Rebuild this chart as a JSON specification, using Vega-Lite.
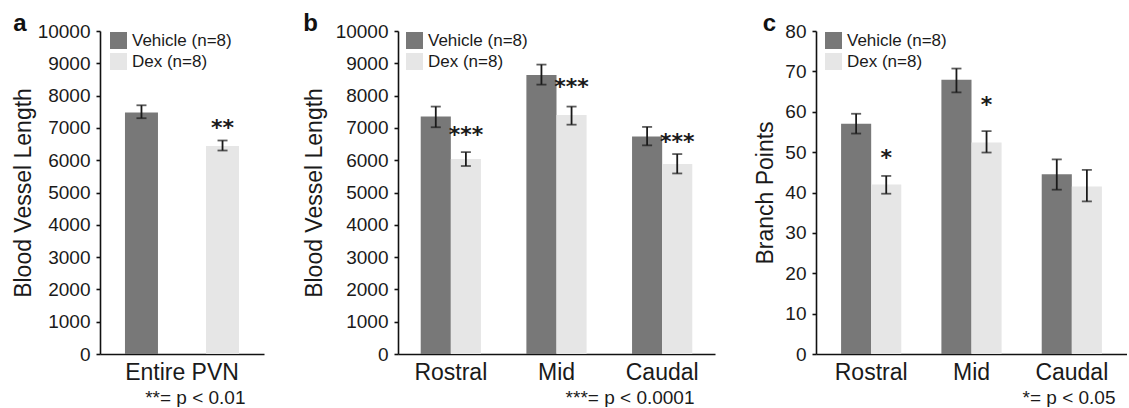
{
  "$schema": "https://vega.github.io/schema/vega-lite/v6.json",
  "padding": {"left": 12, "top": 12, "right": 0, "bottom": 0},
  "spacing": 39,
  "config": {
    "font": "Liberation Sans",
    "view": {"stroke": null},
    "axis": {"grid": false, "domainColor": "#111", "domainWidth": 1.6, "tickColor": "#111", "tickWidth": 1.6, "labelColor": "#1a1a1a", "titleColor": "#1a1a1a", "titleFontWeight": "normal", "labelFont": "Liberation Sans", "titleFont": "Liberation Sans"},
    "axisY": {"format": "d", "labelOverlap": false, "labelFlush": false, "titleFontSize": 23, "labelFontSize": 19, "tickSize": 4, "labelPadding": 6},
    "title": {"font": "Liberation Sans", "fontSize": 24, "fontWeight": "bold", "anchor": "start", "frame": "bounds", "color": "#111", "offset": -14},
    "legend": {"labelFontSize": 17, "labelFont": "Liberation Sans"}
  },
  "datasets": {
    "a": [
      {"region": "Entire PVN", "group": "Vehicle (n=8)", "mean": 7480, "lo": 7300, "hi": 7700, "sig": "", "starY": null},
      {"region": "Entire PVN", "group": "Dex (n=8)", "mean": 6440, "lo": 6300, "hi": 6610, "sig": "**", "starY": 7090}
    ],
    "b": [
      {"region": "Rostral", "group": "Vehicle (n=8)", "mean": 7350, "lo": 7020, "hi": 7660, "sig": "", "starY": null},
      {"region": "Rostral", "group": "Dex (n=8)", "mean": 6040, "lo": 5820, "hi": 6250, "sig": "***", "starY": 6870},
      {"region": "Mid", "group": "Vehicle (n=8)", "mean": 8640, "lo": 8340, "hi": 8960, "sig": "", "starY": null},
      {"region": "Mid", "group": "Dex (n=8)", "mean": 7400, "lo": 7100, "hi": 7660, "sig": "***", "starY": 8360},
      {"region": "Caudal", "group": "Vehicle (n=8)", "mean": 6730, "lo": 6460, "hi": 7030, "sig": "", "starY": null},
      {"region": "Caudal", "group": "Dex (n=8)", "mean": 5880, "lo": 5590, "hi": 6190, "sig": "***", "starY": 6660}
    ],
    "c": [
      {"region": "Rostral", "group": "Vehicle (n=8)", "mean": 57.0, "lo": 54.6, "hi": 59.5, "sig": "", "starY": null},
      {"region": "Rostral", "group": "Dex (n=8)", "mean": 42.0, "lo": 39.7, "hi": 44.1, "sig": "*", "starY": 49.4},
      {"region": "Mid", "group": "Vehicle (n=8)", "mean": 67.9, "lo": 64.8, "hi": 70.7, "sig": "", "starY": null},
      {"region": "Mid", "group": "Dex (n=8)", "mean": 52.4, "lo": 49.9, "hi": 55.2, "sig": "*", "starY": 62.3},
      {"region": "Caudal", "group": "Vehicle (n=8)", "mean": 44.5, "lo": 40.7, "hi": 48.2, "sig": "", "starY": null},
      {"region": "Caudal", "group": "Dex (n=8)", "mean": 41.5, "lo": 37.8, "hi": 45.6, "sig": "", "starY": null}
    ]
  },
  "hconcat": [
    {
      "title": {"text": "a", "dx": 1},
      "width": 164,
      "height": 323,
      "data": {"name": "a"},
      "encoding": {
        "x": {"field": "region", "type": "nominal", "scale": {"paddingInner": 0, "paddingOuter": 0.219},
          "axis": {"labelAngle": 0, "labelFontSize": 23, "ticks": false, "labelPadding": 7, "title": "**= p < 0.01", "titleFontSize": 19, "titleAlign": "right", "titleX": 145, "titlePadding": 4}},
        "xOffset": {"field": "group", "type": "nominal", "sort": ["Vehicle (n=8)", "Dex (n=8)"], "scale": {"paddingInner": 0.593, "paddingOuter": 0}}
      },
      "layer": [
        {"mark": {"type": "bar"},
          "encoding": {
            "y": {"field": "mean", "type": "quantitative", "title": "Blood Vessel Length", "scale": {"domain": [0, 10000], "nice": false},
              "axis": {"values": [0,1000,2000,3000,4000,5000,6000,7000,8000,9000,10000], "titlePadding": 2}},
            "fill": {"field": "group", "type": "nominal", "sort": ["Vehicle (n=8)", "Dex (n=8)"], "scale": {"domain": ["Vehicle (n=8)", "Dex (n=8)"], "range": ["#787878", "#e6e6e6"]},
              "legend": {"orient": "none", "legendX": 10, "legendY": 1, "title": null, "symbolType": "square", "symbolSize": 289, "symbolStrokeWidth": 0, "symbolOpacity": 1, "labelFontSize": 17, "labelColor": "#1a1a1a", "rowPadding": 3, "labelOffset": 5, "padding": 0}}
          }},
        {"mark": {"type": "rule", "color": "#1a1a1a", "strokeWidth": 1.8},
          "encoding": {"y": {"field": "lo", "type": "quantitative", "title": "Blood Vessel Length", "axis": {"values": [0,1000,2000,3000,4000,5000,6000,7000,8000,9000,10000], "titlePadding": 2}}, "y2": {"field": "hi"}}},
        {"mark": {"type": "tick", "color": "#1a1a1a", "thickness": 1.8, "size": 10},
          "encoding": {"y": {"field": "lo", "type": "quantitative", "title": "Blood Vessel Length", "axis": {"values": [0,1000,2000,3000,4000,5000,6000,7000,8000,9000,10000], "titlePadding": 2}}}},
        {"mark": {"type": "tick", "color": "#1a1a1a", "thickness": 1.8, "size": 10},
          "encoding": {"y": {"field": "hi", "type": "quantitative", "title": "Blood Vessel Length", "axis": {"values": [0,1000,2000,3000,4000,5000,6000,7000,8000,9000,10000], "titlePadding": 2}}}},
        {"transform": [{"filter": "datum.sig != ''"}],
          "mark": {"type": "text", "font": "DejaVu Sans", "fontWeight": "bold", "fontSize": 22, "baseline": "middle", "dy": 3, "color": "#1a1a1a"},
          "encoding": {"y": {"field": "starY", "type": "quantitative", "title": "Blood Vessel Length", "axis": {"values": [0,1000,2000,3000,4000,5000,6000,7000,8000,9000,10000], "titlePadding": 2}}, "text": {"field": "sig"}}}
      ]
    },
    {
      "title": {"text": "b"},
      "width": 317,
      "height": 323,
      "data": {"name": "b"},
      "encoding": {
        "x": {"field": "region", "type": "nominal", "sort": ["Rostral", "Mid", "Caudal"], "scale": {"paddingInner": 0.43, "paddingOuter": 0.215},
          "axis": {"labelAngle": 0, "labelFontSize": 23, "ticks": false, "labelPadding": 7, "title": "***= p < 0.0001", "titleFontSize": 19, "titleAlign": "right", "titleX": 296, "titlePadding": 4}},
        "xOffset": {"field": "group", "type": "nominal", "sort": ["Vehicle (n=8)", "Dex (n=8)"], "scale": {"paddingInner": 0, "paddingOuter": 0}}
      },
      "layer": [
        {"mark": {"type": "bar"},
          "encoding": {
            "y": {"field": "mean", "type": "quantitative", "title": "Blood Vessel Length", "scale": {"domain": [0, 10000], "nice": false},
              "axis": {"values": [0,1000,2000,3000,4000,5000,6000,7000,8000,9000,10000], "titlePadding": 9}},
            "fill": {"field": "group", "type": "nominal", "sort": ["Vehicle (n=8)", "Dex (n=8)"], "scale": {"domain": ["Vehicle (n=8)", "Dex (n=8)"], "range": ["#787878", "#e6e6e6"]},
              "legend": {"orient": "none", "legendX": 8, "legendY": 1, "title": null, "symbolType": "square", "symbolSize": 289, "symbolStrokeWidth": 0, "symbolOpacity": 1, "labelFontSize": 17, "labelColor": "#1a1a1a", "rowPadding": 3, "labelOffset": 5, "padding": 0}}
          }},
        {"mark": {"type": "rule", "color": "#1a1a1a", "strokeWidth": 1.8},
          "encoding": {"y": {"field": "lo", "type": "quantitative", "title": "Blood Vessel Length", "axis": {"values": [0,1000,2000,3000,4000,5000,6000,7000,8000,9000,10000], "titlePadding": 9}}, "y2": {"field": "hi"}}},
        {"mark": {"type": "tick", "color": "#1a1a1a", "thickness": 1.8, "size": 10},
          "encoding": {"y": {"field": "lo", "type": "quantitative", "title": "Blood Vessel Length", "axis": {"values": [0,1000,2000,3000,4000,5000,6000,7000,8000,9000,10000], "titlePadding": 9}}}},
        {"mark": {"type": "tick", "color": "#1a1a1a", "thickness": 1.8, "size": 10},
          "encoding": {"y": {"field": "hi", "type": "quantitative", "title": "Blood Vessel Length", "axis": {"values": [0,1000,2000,3000,4000,5000,6000,7000,8000,9000,10000], "titlePadding": 9}}}},
        {"transform": [{"filter": "datum.sig != ''"}],
          "mark": {"type": "text", "font": "DejaVu Sans", "fontWeight": "bold", "fontSize": 22, "baseline": "middle", "dy": 3, "color": "#1a1a1a"},
          "encoding": {"y": {"field": "starY", "type": "quantitative", "title": "Blood Vessel Length", "axis": {"values": [0,1000,2000,3000,4000,5000,6000,7000,8000,9000,10000], "titlePadding": 9}}, "text": {"field": "sig"}}}
      ]
    },
    {
      "title": {"text": "c", "dx": 8},
      "width": 311,
      "height": 323,
      "data": {"name": "c"},
      "encoding": {
        "x": {"field": "region", "type": "nominal", "sort": ["Rostral", "Mid", "Caudal"], "scale": {"paddingInner": 0.4, "paddingOuter": 0.25},
          "axis": {"labelAngle": 0, "labelFontSize": 23, "ticks": false, "labelPadding": 7, "title": "*= p < 0.05", "titleFontSize": 19, "titleAlign": "right", "titleX": 299, "titlePadding": 4}},
        "xOffset": {"field": "group", "type": "nominal", "sort": ["Vehicle (n=8)", "Dex (n=8)"], "scale": {"paddingInner": 0, "paddingOuter": 0}}
      },
      "layer": [
        {"mark": {"type": "bar"},
          "encoding": {
            "y": {"field": "mean", "type": "quantitative", "title": "Branch Points", "scale": {"domain": [0, 80], "nice": false},
              "axis": {"values": [0,10,20,30,40,50,60,70,80], "titlePadding": 7}},
            "fill": {"field": "group", "type": "nominal", "sort": ["Vehicle (n=8)", "Dex (n=8)"], "scale": {"domain": ["Vehicle (n=8)", "Dex (n=8)"], "range": ["#787878", "#e6e6e6"]},
              "legend": {"orient": "none", "legendX": 9, "legendY": 1, "title": null, "symbolType": "square", "symbolSize": 289, "symbolStrokeWidth": 0, "symbolOpacity": 1, "labelFontSize": 17, "labelColor": "#1a1a1a", "rowPadding": 3, "labelOffset": 5, "padding": 0}}
          }},
        {"mark": {"type": "rule", "color": "#1a1a1a", "strokeWidth": 1.8},
          "encoding": {"y": {"field": "lo", "type": "quantitative", "title": "Branch Points", "axis": {"values": [0,10,20,30,40,50,60,70,80], "titlePadding": 7}}, "y2": {"field": "hi"}}},
        {"mark": {"type": "tick", "color": "#1a1a1a", "thickness": 1.8, "size": 10},
          "encoding": {"y": {"field": "lo", "type": "quantitative", "title": "Branch Points", "axis": {"values": [0,10,20,30,40,50,60,70,80], "titlePadding": 7}}}},
        {"mark": {"type": "tick", "color": "#1a1a1a", "thickness": 1.8, "size": 10},
          "encoding": {"y": {"field": "hi", "type": "quantitative", "title": "Branch Points", "axis": {"values": [0,10,20,30,40,50,60,70,80], "titlePadding": 7}}}},
        {"transform": [{"filter": "datum.sig != ''"}],
          "mark": {"type": "text", "font": "DejaVu Sans", "fontWeight": "bold", "fontSize": 22, "baseline": "middle", "dy": 3, "color": "#1a1a1a"},
          "encoding": {"y": {"field": "starY", "type": "quantitative", "title": "Branch Points", "axis": {"values": [0,10,20,30,40,50,60,70,80], "titlePadding": 7}}, "text": {"field": "sig"}}}
      ]
    }
  ],
  "resolve": {"scale": {"fill": "independent", "xOffset": "independent", "x": "independent", "y": "independent"}, "legend": {"fill": "independent"}}
}
